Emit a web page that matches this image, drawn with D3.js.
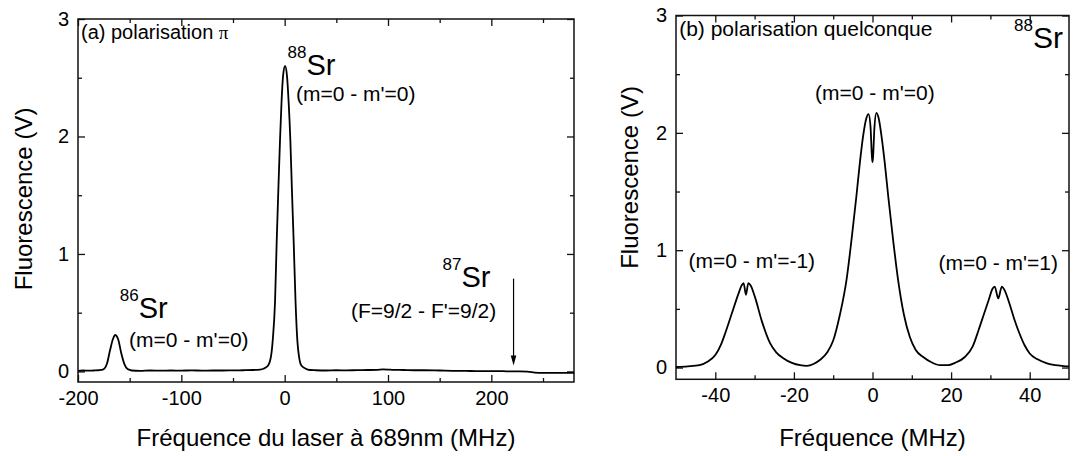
<!DOCTYPE html>
<html>
<head>
<meta charset="utf-8">
<script src="https://cdn.jsdelivr.net/npm/d3@7"></script>
<style>
  html, body { margin: 0; padding: 0; background: #fff; }
  svg { display: block; }
  text { font-family: "Liberation Sans", Arial, sans-serif; fill: #000; }
</style>
</head>
<body>
<svg id="chart" width="1074" height="456"></svg>
<script>
// ---------- DATA ----------
// Panel (a): laser frequency (MHz) vs fluorescence (V)
const spectrumA_MHz = [-200,-195,-190,-185,-180,-176,-172,-169,-166,-164,-162.5,-161,-158,-155,-152,-148,-140,-130,-120,-110,-100,-90,-80,-70,-60,-50,-40,-30,-24,-20,-16,-13,-11.6,-9.3,-7.7,-6.1,-4.5,-3,-1.5,0.4,2.2,3.8,5.5,7,8.7,10.5,12.3,14,16.2,20,24.5,30,40,50,60,70,80,90,95,100,105,115,125,135,145,155,165,175,185,195,205,215,225,235,242,250,260,270,280];
const spectrumA_V   = [0.005,0.008,0.006,0.008,0.01,0.015,0.065,0.18,0.28,0.31,0.30,0.27,0.15,0.06,0.02,0.008,0.005,0.008,0.006,0.008,0.007,0.009,0.007,0.008,0.008,0.009,0.01,0.012,0.015,0.025,0.05,0.14,0.26,0.6,1.11,1.55,1.97,2.3,2.52,2.60,2.52,2.3,1.97,1.55,1.11,0.6,0.26,0.12,0.05,0.025,0.012,0.01,0.008,0.01,0.009,0.011,0.012,0.014,0.017,0.016,0.013,0.012,0.01,0.01,0.009,0.007,0.005,0.004,0.003,0.002,0.003,0.001,0.0,-0.002,-0.01,-0.013,-0.013,-0.012,-0.012];

// Panel (b): frequency (MHz) vs fluorescence (V)
const spectrumB_MHz = [-50,-47,-44,-42,-40,-38.5,-37.5,-35.8,-34.1,-33.3,-32.8,-32.2,-31.6,-31,-29.9,-28.2,-26.1,-24.5,-22.7,-20.5,-18.4,-16.7,-15,-13.4,-11.5,-10,-8.3,-6.6,-5.3,-4.1,-3.2,-2.4,-1.6,-1.0,-0.5,-0.15,0,0.15,0.5,1.0,1.6,2.3,3.1,4.0,5.2,6.5,8,9.5,11,12.9,15,17.2,19.2,21,23.5,25.5,27,28.3,29.6,30.5,31.1,32,32.9,33.6,34.8,36,37.4,38.7,40,42,44.4,46.5,48.7,50];
const spectrumB_V   = [0.005,0.01,0.02,0.05,0.107,0.2,0.29,0.46,0.63,0.70,0.72,0.62,0.72,0.70,0.60,0.40,0.21,0.13,0.08,0.04,0.02,0.015,0.03,0.064,0.13,0.23,0.45,0.75,1.1,1.46,1.75,1.97,2.12,2.16,2.05,1.8,1.75,1.8,2.05,2.17,2.12,1.97,1.75,1.46,1.1,0.75,0.45,0.26,0.15,0.09,0.045,0.02,0.02,0.04,0.09,0.18,0.32,0.45,0.58,0.67,0.69,0.59,0.69,0.66,0.55,0.42,0.29,0.19,0.12,0.07,0.036,0.02,0.013,0.01];

// Axis ticks
const ticksA_major = [-200,-100,0,100,200];
const ticksA_minor = [-150,-50,50,150,250];
const ticksB_major = [-40,-20,0,20,40];
const ticksB_minor = [-30,-10,10,30];
const ticksY_major = [0,1,2,3];
const ticksY_minor = [0.5,1.5,2.5];

// Annotation labels
const isotopeMass  = ["88","86","87"];
const isotopeNames = ["Sr","Sr","Sr"];
const transitionsA = ["(m=0 - m'=0)","(m=0 - m'=0)","(F=9/2 - F'=9/2)"];
const transitionsB = ["(m=0 - m'=0)","(m=0 - m'=-1)","(m=0 - m'=1)"];
const arrowA = {x: 221.5, y0: 0.79, y1: 0.05};

// ---------- LAYOUT ----------
const svg = d3.select("#chart");
const FONT = "Liberation Sans, Arial, sans-serif";
const fmt = d => String(d);

function panel(box, xDom, yDom, xMajor, xMinor, xTitle, yTitleX, yTitleCenter) {
  const x = d3.scaleLinear().domain(xDom).range([box.l, box.r]);
  const y = d3.scaleLinear().domain(yDom).range([box.b, box.t]);
  const g = svg.append("g");
  const axStyle = sel => {
    sel.select(".domain").remove();
    sel.selectAll("line").attr("stroke", "#111").attr("stroke-width", 1.3);
    sel.selectAll("text").attr("font-family", FONT).attr("font-size", 20).attr("fill", "#000");
  };
  // bottom
  g.append("g").attr("transform", `translate(0,${box.b})`)
    .call(d3.axisBottom(x).tickValues(xMajor).tickSize(-7).tickPadding(9).tickFormat(fmt)).call(axStyle);
  g.append("g").attr("transform", `translate(0,${box.b})`)
    .call(d3.axisBottom(x).tickValues(xMinor).tickSize(-4).tickFormat("")).call(axStyle);
  // top
  g.append("g").attr("transform", `translate(0,${box.t})`)
    .call(d3.axisTop(x).tickValues(xMajor).tickSize(-7).tickFormat("")).call(axStyle);
  g.append("g").attr("transform", `translate(0,${box.t})`)
    .call(d3.axisTop(x).tickValues(xMinor).tickSize(-4).tickFormat("")).call(axStyle);
  // left
  g.append("g").attr("transform", `translate(${box.l},0)`)
    .call(d3.axisLeft(y).tickValues(ticksY_major).tickSize(-7).tickPadding(9).tickFormat(fmt)).call(axStyle);
  g.append("g").attr("transform", `translate(${box.l},0)`)
    .call(d3.axisLeft(y).tickValues(ticksY_minor).tickSize(-4).tickFormat("")).call(axStyle);
  // right
  g.append("g").attr("transform", `translate(${box.r},0)`)
    .call(d3.axisRight(y).tickValues(ticksY_major).tickSize(-7).tickFormat("")).call(axStyle);
  g.append("g").attr("transform", `translate(${box.r},0)`)
    .call(d3.axisRight(y).tickValues(ticksY_minor).tickSize(-4).tickFormat("")).call(axStyle);
  // frame
  g.append("rect").attr("x", box.l).attr("y", box.t)
    .attr("width", box.r - box.l).attr("height", box.b - box.t)
    .attr("fill", "none").attr("stroke", "#111").attr("stroke-width", 1.5);
  // titles
  g.append("text").attr("x", (box.l + box.r) / 2).attr("y", 446)
    .attr("text-anchor", "middle").attr("font-size", 24).text(xTitle);
  g.append("text").attr("transform", `translate(${yTitleX},${yTitleCenter}) rotate(-90)`)
    .attr("text-anchor", "middle").attr("font-size", 24).text("Fluorescence (V)");
  return {x, y, g};
}

function curve(p, xs, ys) {
  const pts = xs.map((v, i) => [v, ys[i]]);
  p.g.append("path").datum(pts)
    .attr("fill", "none").attr("stroke", "#000").attr("stroke-width", 1.8)
    .attr("stroke-linejoin", "round")
    .attr("d", d3.line().x(d => p.x(d[0])).y(d => p.y(d[1])).curve(d3.curveMonotoneX));
}

function isotope(p, xv, yv, mass, name, size) {
  const t = p.g.append("text").attr("x", p.x(xv)).attr("y", p.y(yv));
  t.append("tspan").attr("font-size", 17).attr("dy", -17).text(mass);
  t.append("tspan").attr("font-size", size).attr("dy", 17).text(name);
}
function label(p, xv, yv, s, size) {
  p.g.append("text").attr("x", p.x(xv)).attr("y", p.y(yv)).attr("font-size", size).text(s);
}

// ---------- PANEL A ----------
const A = panel({l: 78, r: 574, t: 19, b: 382}, [-200, 280], [-0.09, 3],
  ticksA_major, ticksA_minor, "Fréquence du laser à 689nm (MHz)", 32, 199);
curve(A, spectrumA_MHz, spectrumA_V);
{
  const t = A.g.append("text").attr("x", A.x(-197.1)).attr("y", A.y(2.83)).attr("font-size", 20);
  t.append("tspan").text("(a) polarisation ");
  t.append("tspan").attr("font-family", "Liberation Serif, serif").attr("font-size", 19).text("π");
}
isotope(A, 2.7, 2.523, isotopeMass[0], isotopeNames[0], 29);
label(A, 10.9, 2.302, transitionsA[0], 21);
isotope(A, -159.5, 0.455, isotopeMass[1], isotopeNames[1], 29);
label(A, -150.6, 0.209, transitionsA[1], 21);
isotope(A, 152.7, 0.719, isotopeMass[2], isotopeNames[2], 29);
label(A, 64.2, 0.455, transitionsA[2], 21);
// arrow
{
  const ax = A.x(arrowA.x), ay0 = A.y(arrowA.y0), ay1 = A.y(arrowA.y1);
  A.g.append("line").attr("x1", ax).attr("x2", ax).attr("y1", ay0).attr("y2", ay1 - 8)
    .attr("stroke", "#000").attr("stroke-width", 1.2);
  A.g.append("path").attr("d", `M${ax - 2.8},${ay1 - 10} L${ax + 2.8},${ay1 - 10} L${ax},${ay1} Z`)
    .attr("fill", "#000");
}

// ---------- PANEL B ----------
const B = panel({l: 676, r: 1069, t: 15.5, b: 379.3}, [-50, 50], [-0.1, 3],
  ticksB_major, ticksB_minor, "Fréquence (MHz)", 638, 177.5);
curve(B, spectrumB_MHz, spectrumB_V);
label(B, -49.2, 2.825, "(b) polarisation quelconque", 21);
isotope(B, 36.0, 2.72, isotopeMass[0], isotopeNames[0], 30);
label(B, -14.6, 2.28, transitionsB[0], 21);
label(B, -46.8, 0.848, transitionsB[1], 21);
label(B, 16.8, 0.831, transitionsB[2], 21);
</script>
</body>
</html>
